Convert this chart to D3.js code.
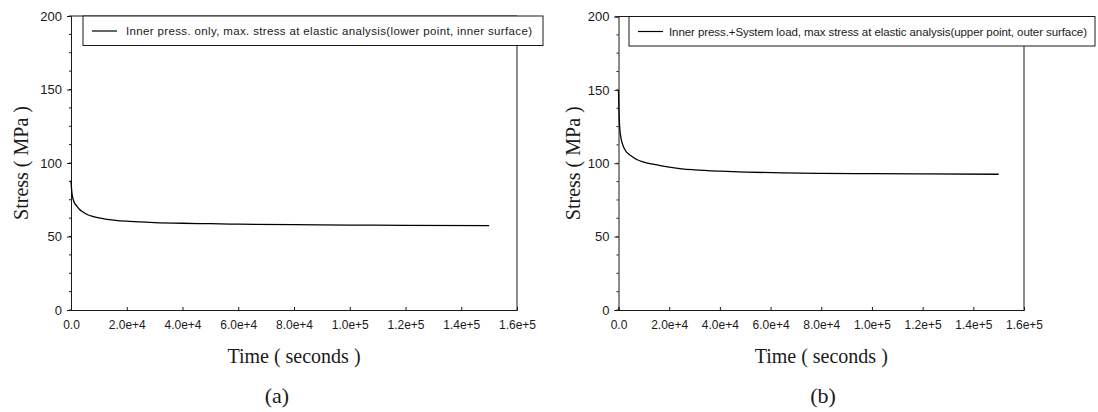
<!DOCTYPE html>
<html>
<head>
<meta charset="utf-8">
<script src="https://cdn.jsdelivr.net/npm/d3@7"></script>
<style>
body { margin: 0; background: #fff; }
svg { display: block; }
</style>
</head>
<body>
<div id="chart"></div>
<script>
// time in seconds, stress in MPa
var timeA = [0, 250, 500, 1000, 2000, 3000, 4000, 6000, 8000, 10000, 13000, 16000, 20000, 25000, 30000, 40000, 50000, 60000, 80000, 100000, 120000, 150000];
var stressA = [88, 81, 77.5, 74, 70.8, 68.5, 67, 64.8, 63.6, 62.6, 61.7, 61, 60.4, 59.9, 59.5, 59.0, 58.7, 58.4, 58.1, 57.8, 57.6, 57.4];

var timeB = [0, 150, 300, 600, 1000, 1500, 2000, 3000, 4000, 5000, 7000, 10000, 13000, 16000, 20000, 25000, 30000, 40000, 50000, 65000, 80000, 100000, 120000, 150000];
var stressB = [150, 138, 130, 122, 117, 113.5, 111, 108, 106.3, 105, 102.7, 100.8, 99.6, 98.6, 97.4, 96.2, 95.5, 94.6, 94.0, 93.4, 93.1, 92.9, 92.7, 92.5];

var xTicks = [0, 20000, 40000, 60000, 80000, 100000, 120000, 140000, 160000];
var xTickLabels = ["0.0", "2.0e+4", "4.0e+4", "6.0e+4", "8.0e+4", "1.0e+5", "1.2e+5", "1.4e+5", "1.6e+5"];
var yTicks = [0, 50, 100, 150, 200];
var yMinor = d3.range(0, 200.1, 12.5);

var legendA = "Inner press. only, max. stress at elastic analysis(lower point, inner surface)";
var legendB = "Inner press.+System load, max stress at elastic analysis(upper point, outer surface)";

var W = 1098, H = 412;
var svg = d3.select("#chart").append("svg")
	.attr("width", W)
	.attr("height", H);

var panels = [
	{left: 71, right: 517, top: 16, bottom: 310, t: timeA, s: stressA, legend: legendA,
	 legX0: 83, legX1: 543, textGap: 43, textLen: 406, label: "(a)", labelX: 277, ytitleX: 21},
	{left: 618.5, right: 1024, top: 16.5, bottom: 310, t: timeB, s: stressB, legend: legendB,
	 legX0: 629, legX1: 1095, textGap: 40, textLen: 418, label: "(b)", labelX: 823, ytitleX: 573}
];

var ink = "#1a1a1a";

panels.forEach(function(p){

	var x = d3.scaleLinear().domain([0, 160000]).range([p.left, p.right]);
	var y = d3.scaleLinear().domain([0, 200]).range([p.bottom, p.top]);

	var g = svg.append("g");

	// frame top + right
	g.append("path")
		.attr("d", "M" + p.left + "," + p.top + "H" + p.right + "V" + p.bottom)
		.attr("fill", "none")
		.attr("stroke", ink)
		.attr("stroke-width", 1);

	// y axis
	var yAxis = d3.axisLeft(y).tickValues(yTicks).tickSize(4).tickPadding(5);
	var ya = g.append("g").attr("transform", "translate(" + p.left + ",0)").call(yAxis);
	ya.select(".domain").attr("stroke", ink);
	ya.selectAll(".tick line").attr("stroke", ink);
	ya.selectAll("text")
		.attr("font-family", "Liberation Sans, Arial, sans-serif")
		.attr("font-size", 13)
		.attr("fill", ink);

	// minor y ticks
	g.append("g").selectAll("line")
		.data(yMinor)
		.enter()
		.append("line")
		.attr("x1", p.left - 2)
		.attr("x2", p.left)
		.attr("y1", function(d){ return y(d); })
		.attr("y2", function(d){ return y(d); })
		.attr("stroke", ink);

	// x axis, ticks pointing inward
	var xAxis = d3.axisBottom(x).tickValues(xTicks)
		.tickFormat(function(d, i){ return xTickLabels[i]; })
		.tickSize(-3).tickPadding(10);
	var xa = g.append("g").attr("transform", "translate(0," + p.bottom + ")").call(xAxis);
	xa.select(".domain").attr("stroke", ink);
	xa.selectAll(".tick line").attr("stroke", ink);
	xa.selectAll("text")
		.attr("font-family", "Liberation Sans, Arial, sans-serif")
		.attr("font-size", 12)
		.attr("fill", ink);

	// the curve
	var line = d3.line()
		.x(function(d){ return x(d[0]); })
		.y(function(d){ return y(d[1]); })
		.curve(d3.curveMonotoneX);

	g.append("path")
		.datum(d3.zip(p.t, p.s))
		.attr("d", line)
		.attr("fill", "none")
		.attr("stroke", "#000")
		.attr("stroke-width", 1.3);

	// legend box
	var lg = g.append("g");
	lg.append("rect")
		.attr("x", p.legX0)
		.attr("y", p.top)
		.attr("width", p.legX1 - p.legX0)
		.attr("height", 29.5)
		.attr("fill", "#fff")
		.attr("stroke", ink)
		.attr("stroke-width", 1);
	lg.append("line")
		.attr("x1", p.legX0 + 9)
		.attr("x2", p.legX0 + 34)
		.attr("y1", p.top + 15)
		.attr("y2", p.top + 15)
		.attr("stroke", "#000")
		.attr("stroke-width", 1.2);
	lg.append("text")
		.attr("x", p.legX0 + p.textGap)
		.attr("y", p.top + 19)
		.attr("font-family", "Liberation Sans, Arial, sans-serif")
		.attr("font-size", 11.5)
		.attr("textLength", p.textLen)
		.attr("lengthAdjust", "spacing")
		.attr("fill", ink)
		.text(p.legend);

	// axis titles
	g.append("text")
		.attr("x", (p.left + p.right) / 2)
		.attr("y", 363)
		.attr("text-anchor", "middle")
		.attr("font-family", "Liberation Serif, Times New Roman, serif")
		.attr("font-size", 20)
		.attr("fill", ink)
		.text("Time ( seconds )");

	g.append("text")
		.attr("transform", "translate(" + p.ytitleX + "," + ((p.top + p.bottom) / 2) + ") rotate(-90)")
		.attr("text-anchor", "middle")
		.attr("dy", "0.35em")
		.attr("font-family", "Liberation Serif, Times New Roman, serif")
		.attr("font-size", 20)
		.attr("fill", ink)
		.text("Stress ( MPa )");

	// panel label
	g.append("text")
		.attr("x", p.labelX)
		.attr("y", 403)
		.attr("text-anchor", "middle")
		.attr("font-family", "Liberation Serif, Times New Roman, serif")
		.attr("font-size", 22)
		.attr("fill", ink)
		.text(p.label);
});
</script>
</body>
</html>
